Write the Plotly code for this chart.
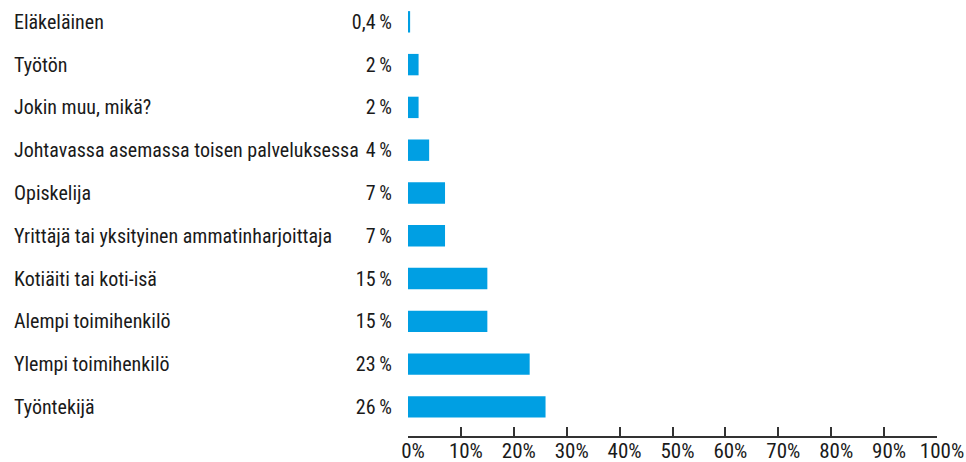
import plotly.graph_objects as go

categories = ["Eläkeläinen", "Työtön", "Jokin muu, mikä?",
              "Johtavassa asemassa toisen palveluksessa", "Opiskelija",
              "Yrittäjä tai yksityinen ammatinharjoittaja", "Kotiäiti tai koti-isä",
              "Alempi toimihenkilö", "Ylempi toimihenkilö", "Työntekijä"]
values = [0.4, 2, 2, 4, 7, 7, 15, 15, 23, 26]
value_labels = ["0,4\u2009%", "2\u2009%", "2\u2009%", "4\u2009%", "7\u2009%",
                "7\u2009%", "15\u2009%", "15\u2009%", "23\u2009%", "26\u2009%"]
x_ticks = [0, 10, 20, 30, 40, 50, 60, 70, 80, 90, 100]
x_tick_labels = [f"{t}%" for t in x_ticks]

FONT = "Roboto Condensed, DejaVu Sans Condensed, sans-serif"
TXT = "#1a1a1a"
BLUE = "#009FE3"

pos = list(range(len(categories)))

fig = go.Figure(go.Bar(
    x=values, y=pos, orientation="h",
    marker=dict(color=BLUE, line=dict(width=0)),
    width=0.5, hoverinfo="skip"))

L, R, B = 408, 29, 26
W, H = 966, 462
plot_w = W - L - R

annotations = []
for p, c in zip(pos, categories):
    annotations.append(dict(
        x=-(L - 12) / plot_w, xref="paper", y=p, yref="y",
        text=c, showarrow=False, xanchor="left", yanchor="middle",
        font=dict(family=FONT, size=20, color=TXT)))

fig.update_layout(
    width=W, height=H,
    margin=dict(l=L, r=R, t=0, b=B, autoexpand=False),
    plot_bgcolor="white", paper_bgcolor="white",
    showlegend=False,
    annotations=annotations,
    xaxis=dict(range=[0, 100], tickvals=x_ticks, ticktext=x_tick_labels,
               ticks="inside", ticklen=9, tickcolor="#333", tickwidth=1.5,
               showline=True, linecolor="#333", linewidth=1.5,
               showgrid=False, zeroline=False, fixedrange=True, automargin=False,
               ticklabelstandoff=-5, ticklabelshift=5, ticklabeloverflow="allow",
               tickfont=dict(family=FONT, size=21, color=TXT)),
    yaxis=dict(range=[9.68, -0.51], tickvals=pos, ticktext=value_labels,
               ticks="", showline=False, showgrid=False, zeroline=False,
               ticklabelstandoff=15, automargin=False, fixedrange=True,
               tickfont=dict(family=FONT, size=20, color=TXT)),
)

fig.write_html("out.html", post_script="document.body.style.margin='0';",
               config={"displayModeBar": False})
